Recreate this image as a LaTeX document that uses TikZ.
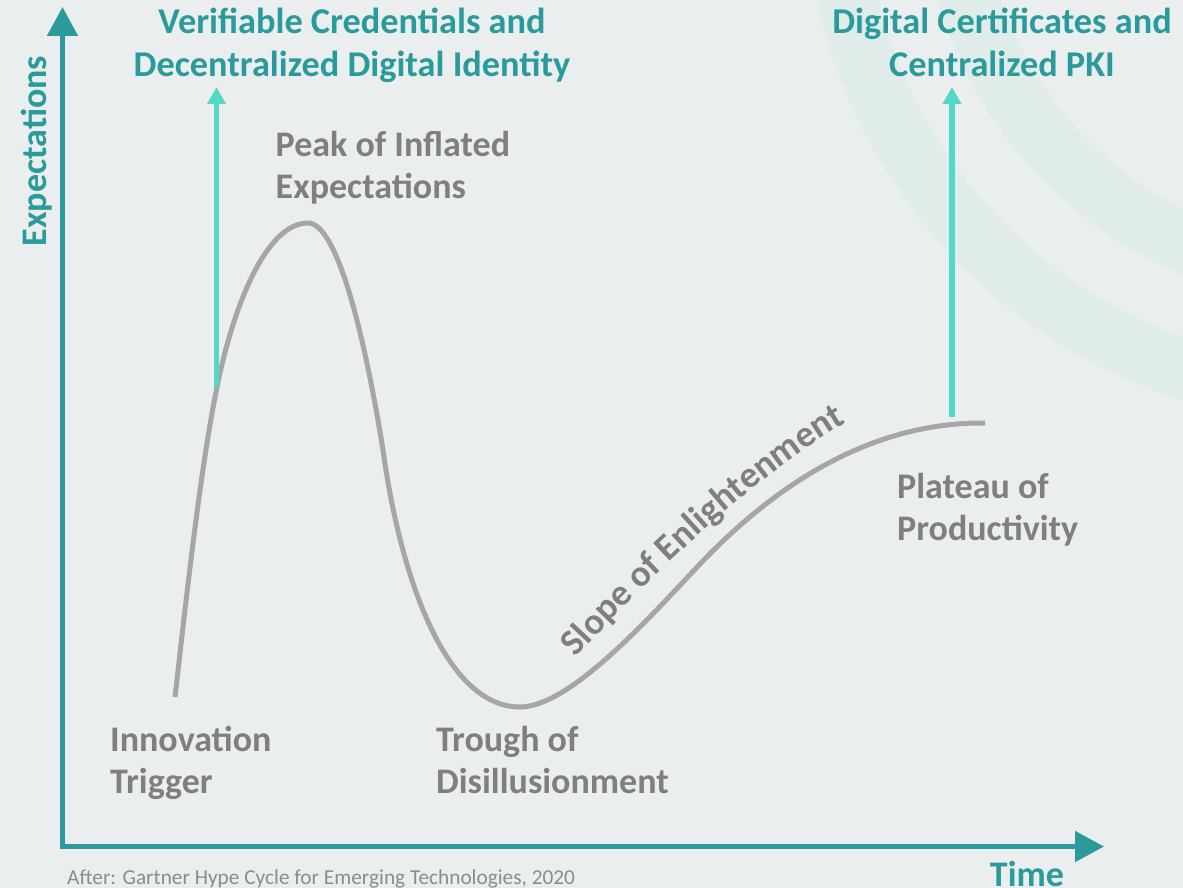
\documentclass[tikz,border=0pt]{standalone}
\usepackage{fontspec}
\setmainfont{Carlito}
\usetikzlibrary{arrows.meta,decorations.text}
\definecolor{bg}{HTML}{EAEEEF}
\definecolor{band}{HTML}{DFECEA}
\definecolor{tealdark}{HTML}{2A9A9A}
\definecolor{teallight}{HTML}{52D9C6}
\definecolor{curvegray}{HTML}{A6A6A6}
\definecolor{labelgray}{HTML}{7F7F7F}
\definecolor{capgray}{HTML}{8C8C8C}
\tikzset{
  lbl/.style={font=\fontsize{36}{42}\selectfont\bfseries, text=labelgray, inner sep=0pt, align=left, anchor=base west},
  ttl/.style={font=\fontsize{36.3}{43}\selectfont\bfseries, text=tealdark, inner sep=0pt, align=center, anchor=base},
  axlabel/.style={font=\fontsize{36}{42}\selectfont\bfseries, text=tealdark, inner sep=0pt, anchor=base},
  axisline/.style={draw=tealdark, line width=5pt, {Triangle[length=29pt,width=30pt]}-{Triangle[length=29pt,width=30pt]}},
  hype/.style={draw=curvegray, line width=5pt},
  pointer/.style={draw=teallight, line width=5.5pt, -{Triangle[length=17pt,width=18pt]}},
  ring/.style={draw=band, line width=60pt},
}
\begin{document}
\begin{tikzpicture}[x=1pt,y=-1pt]
\useasboundingbox (0,0) rectangle (1183,888);
\fill[bg] (0,0) rectangle (1183,888);
\begin{scope}
  \clip (0,0) rectangle (1183,888);
  \draw[ring] (1345,-116) circle[radius=511];
  \draw[ring] (1345,-116) circle[radius=393];
\end{scope}
% axes
\coordinate (ytip) at (62.5,7);
\coordinate (origin) at (62.5,846.5);
\coordinate (xtip) at (1104,846.5);
\draw[axisline] (ytip) -- (origin) -- (xtip);
\node[axlabel, rotate=90] (ylab) at (46,151) {Expectations};
\node[axlabel] (xlab) at (1027,886) {Time};
% hype curve
\draw[hype] (175,697) .. controls (185,610) and (200,470) .. (217,387)
  .. controls (235,299) and (268,223) .. (308,223)
  .. controls (335,223) and (362,320) .. (383,450)
  .. controls (400,575) and (445,707) .. (520,707)
  .. controls (570,707) and (650,617) .. (700,564)
  .. controls (780,480) and (875,422) .. (985,423);
% pointers
\coordinate (vcfoot) at (216.5,387);
\coordinate (vchead) at (216.5,87);
\coordinate (dcfoot) at (952,417);
\coordinate (dchead) at (952,87);
\draw[pointer] (vcfoot) -- (vchead);
\draw[pointer] (dcfoot) -- (dchead);
% titles
\node[ttl] (vc) at (352,77) {Verifiable Credentials and\\Decentralized Digital Identity};
\node[ttl] (dc) at (1002,77) {Digital Certificates and\\Centralized PKI};
% phase labels
\node[lbl] (peak) at (275.5,198) {Peak of Inflated\\Expectations};
\node[lbl] (trigger) at (110,793) {Innovation\\Trigger};
\node[lbl] (trough) at (436,793) {Trough of\\Disillusionment};
\node[lbl] (plateau) at (897,540) {Plateau of\\Productivity};
\path[decorate, decoration={text along path, text align=left, text color=labelgray,
  text={|\fontsize{37}{42}\selectfont\bfseries|Slope of Enlightenment}}]
  (576,658) .. controls (640,588) and (740,486) .. (850,420);
\node[font=\fontsize{21.3}{25}\selectfont, text=capgray, inner sep=0pt, anchor=base west] (src) at (67,884) {After: Gartner Hype Cycle for Emerging Technologies, 2020};
\end{tikzpicture}
\end{document}
